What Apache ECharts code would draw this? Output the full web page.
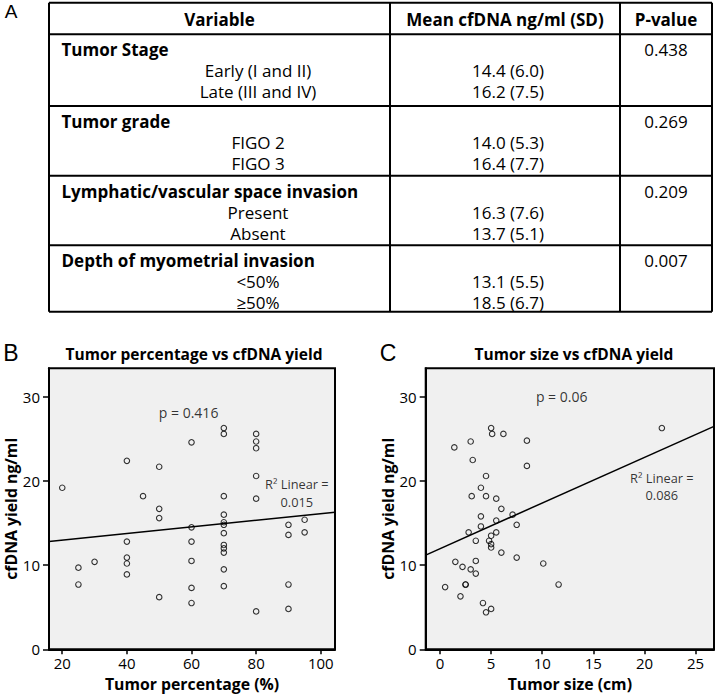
<!DOCTYPE html>
<html><head><meta charset="utf-8">
<script src="https://cdn.jsdelivr.net/npm/echarts@6/dist/echarts.min.js"></script>
<style>html,body{margin:0;padding:0;background:#fff}#c{width:715px;height:695px}</style>
</head><body><div id="c"></div>
<script>
// ---------- Table data (panel A) ----------
const tableHeaders = ['Variable', 'Mean cfDNA ng/ml (SD)', 'P-value'];
const groupNames = ['Tumor Stage', 'Tumor grade', 'Lymphatic/vascular space invasion', 'Depth of myometrial invasion'];
const subgroupNames = [['Early (I and II)', 'Late (III and IV)'], ['FIGO 2', 'FIGO 3'], ['Present', 'Absent'], ['<50%', '≥50%']];
const meanValues = [[14.4, 16.2], [14.0, 16.4], [16.3, 13.7], [13.1, 18.5]];
const sdValues = [[6.0, 7.5], [5.3, 7.7], [7.6, 5.1], [5.5, 6.7]];
const pValues = ['0.438', '0.269', '0.209', '0.007'];

// ---------- Panel B data ----------
const tumorPct = [20,25,25,30,40,40,40,40,40,45,50,50,50,50,60,60,60,60,60,60,70,70,70,70,70,70,70,70,70,70,70,70,80,80,80,80,80,80,90,90,90,90,95,95];
const cfdnaB   = [19.2,9.7,7.7,10.4,22.4,12.8,10.9,10.2,8.9,18.2,21.7,16.7,15.6,6.2,24.6,14.5,12.8,10.5,7.3,5.5,26.3,25.6,18.2,16.0,15.1,14.8,13.8,12.4,12.0,11.5,9.5,7.5,25.6,24.7,23.9,20.6,17.9,4.5,14.8,13.6,7.7,4.8,15.4,13.9];
const fitB = [[15.9, 12.8], [104.4, 16.3]];
const pTextB = 'p = 0.416';
const r2B = '0.015';
const xTicksB = [20, 40, 60, 80, 100];

// ---------- Panel C data ----------
const tumorSize = [0.5,1.4,1.5,2.0,2.2,2.5,2.5,2.8,3.0,3.0,3.1,3.2,3.5,3.5,3.5,4.0,4.0,4.0,4.2,4.5,4.5,4.5,4.8,5.0,5.1,5.0,5.0,5.0,5.0,5.5,5.5,5.5,6.0,6.0,6.2,7.1,7.5,7.5,8.5,8.5,10.1,11.6,21.7];
const cfdnaC    = [7.4,24.0,10.4,6.3,9.8,7.7,7.7,13.9,9.5,24.7,18.2,22.5,12.9,10.5,9.0,19.2,15.8,14.6,5.5,20.6,18.2,4.4,12.9,26.3,25.6,13.5,12.5,12.1,4.8,15.3,17.9,13.9,16.7,11.5,25.6,16.0,14.8,10.9,24.8,21.8,10.2,7.7,26.3];
const fitC = [[-1.4, 11.2], [26.8, 26.5]];
const pTextC = 'p = 0.06';
const r2C = '0.086';
const xTicksC = [0, 5, 10, 15, 20, 25];

const yTicks = [0, 10, 20, 30];

// ---------- Layout ----------
const FONT = '"Open Sans", Lato, sans-serif';
const tL = 49, tR = 712, colLines = [390, 620];
const rowLines = [2.7, 34.3, 106, 175.7, 245.3, 311.7];
const graphics = [];
function line(x1, y1, x2, y2) {
  graphics.push({ type: 'line', shape: { x1, y1, x2, y2 }, style: { stroke: '#000', lineWidth: 2 }, silent: true });
}
function text(t, x, y, size, bold, align, family) {
  graphics.push({ type: 'text', style: { text: t, x, y, fill: '#000', font: (bold ? 'bold ' : '') + size + 'px ' + (family || FONT), lineHeight: Math.round(size * 1.1), textAlign: align || 'center', textVerticalAlign: 'middle' }, silent: true });
}
rowLines.forEach(y => line(tL, y, tR, y));
line(tL, rowLines[0], tL, rowLines[5]);
line(tR, rowLines[0], tR, rowLines[5]);
colLines.forEach(x => line(x, rowLines[0], x, rowLines[5]));
const hx = [(tL + colLines[0]) / 2, (colLines[0] + colLines[1]) / 2, (colLines[1] + tR) / 2];
tableHeaders.forEach((h, i) => text(h, hx[i], (rowLines[0] + rowLines[1]) / 2 + 0.5, 17, true));
groupNames.forEach((g, i) => {
  const top = rowLines[i + 1];
  text(g, 61.5, top + 15.5, 17, true, 'left');
  text(pValues[i], 666, top + 15.5, 17, false);
  subgroupNames[i].forEach((s, j) => {
    const y = top + 36.5 + j * 21;
    text(s, 258, y, 17, false);
    text(meanValues[i][j].toFixed(1) + ' (' + sdValues[i][j].toFixed(1) + ')', 508, y, 17, false);
  });
});
text('A', 11, 11, 19, false, 'center', '"Liberation Sans", sans-serif');
text('B', 11, 353, 23, false, 'center', '"Liberation Sans", sans-serif');
text('C', 388, 353, 23, false, 'center', '"Liberation Sans", sans-serif');
text('Tumor percentage vs cfDNA yield', 194, 354, 15.5, true);
text('Tumor size vs cfDNA yield', 574, 354, 15.5, true);

function zip(a, b) { return a.map((v, i) => [v, b[i]]); }

const grids = [
  { left: 49, top: 368.3, width: 286, height: 281, show: true, backgroundColor: '#f0f0f0', borderColor: '#000', borderWidth: 2 },
  { left: 425.7, top: 368.3, width: 288.3, height: 281, show: true, backgroundColor: '#f0f0f0', borderColor: '#000', borderWidth: 2 }
];
function xAxis(idx, min, max, ticks, name) {
  return {
    type: 'value', gridIndex: idx, min, max, name, nameLocation: 'middle', nameGap: 27,
    nameTextStyle: { fontFamily: FONT, fontWeight: 'bold', fontSize: 15.8, lineHeight: 16, color: '#000' },
    axisLine: { show: true, onZero: false, lineStyle: { color: '#000', width: 2 } }, splitLine: { show: false },
    axisTick: { show: true, length: 5, customValues: ticks, lineStyle: { color: '#000', width: 1.5 } },
    axisLabel: { customValues: ticks, fontFamily: FONT, fontSize: 15, color: '#000', margin: 6 }
  };
}
function yAxis(idx) {
  return {
    type: 'value', gridIndex: idx, min: 0, max: 33.4, name: 'cfDNA yield ng/ml', nameLocation: 'middle', nameGap: 26,
    nameTextStyle: { fontFamily: FONT, fontWeight: 'bold', fontSize: 15.8, lineHeight: 16, color: '#000' },
    axisLine: { show: true, onZero: false, lineStyle: { color: '#000', width: 2 } }, splitLine: { show: false },
    axisTick: { show: true, length: 6, customValues: yTicks, lineStyle: { color: '#000', width: 1.5 } },
    axisLabel: { customValues: yTicks, fontFamily: FONT, fontSize: 15, color: '#000', margin: 9 }
  };
}
const pointStyle = { color: 'rgba(0,0,0,0)', borderColor: '#000', borderWidth: 1.1 };
const annLabel = { show: true, position: 'inside', color: '#000', fontFamily: FONT, fontSize: 14, align: 'center' };
function annot(idx, pos, txt, size, lh) {
  return { type: 'scatter', xAxisIndex: idx, yAxisIndex: idx, symbolSize: 0, silent: true, z: 5,
    data: [{ value: pos, label: Object.assign({}, annLabel, { formatter: txt, fontSize: size, lineHeight: lh }) }] };
}

const chart = echarts.init(document.getElementById('c'), null, { renderer: 'svg', width: 715, height: 695 });
chart.setOption({
  animation: false,
  backgroundColor: '#fff',
  grid: grids,
  xAxis: [xAxis(0, 15.9, 104.4, xTicksB, 'Tumor percentage (%)'), xAxis(1, -1.4, 26.8, xTicksC, 'Tumor size (cm)')],
  yAxis: [yAxis(0), yAxis(1)],
  series: [
    { type: 'scatter', xAxisIndex: 0, yAxisIndex: 0, data: zip(tumorPct, cfdnaB), symbol: 'circle', symbolSize: 5.5, itemStyle: pointStyle },
    { type: 'line', xAxisIndex: 0, yAxisIndex: 0, data: fitB, symbol: 'none', lineStyle: { color: '#000', width: 1.5 } },
    annot(0, [59.1, 28.2], pTextB, 14, 18),
    annot(0, [92.6, 18.55], 'R² Linear =\n' + r2B, 12.8, 17.5),
    { type: 'scatter', xAxisIndex: 1, yAxisIndex: 1, data: zip(tumorSize, cfdnaC), symbol: 'circle', symbolSize: 5.5, itemStyle: pointStyle },
    { type: 'line', xAxisIndex: 1, yAxisIndex: 1, data: fitC, symbol: 'none', lineStyle: { color: '#000', width: 1.5 } },
    annot(1, [11.9, 30.1], pTextC, 14, 18),
    annot(1, [21.7, 19.35], 'R² Linear =\n' + r2C, 12.8, 17.5)
  ],
  graphic: graphics
});
</script></body></html>
